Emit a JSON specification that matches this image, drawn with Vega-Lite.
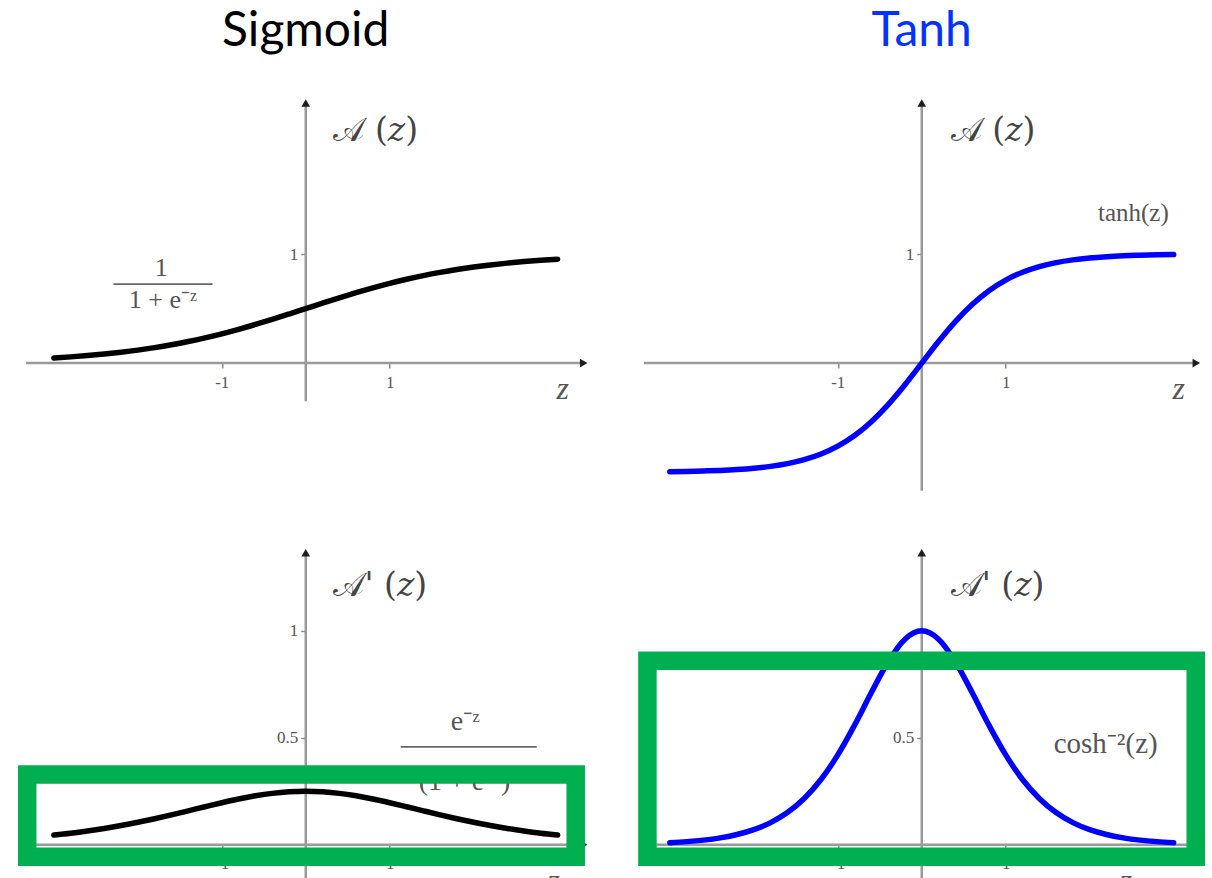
{
  "$schema": "https://vega.github.io/schema/vega-lite/v6.json",
  "background": "white",
  "autosize": {"type": "pad"},
  "padding": {"left": 17.25, "top": 8, "right": 0, "bottom": 0},
  "bounds": "flush",
  "columns": 2,
  "spacing": {"row": 47, "column": 45},
  "datasets": {
    "sigmoid": [
      {"z": -3, "a": 0.0474}, {"z": -2.8, "a": 0.0573}, {"z": -2.6, "a": 0.0691}, {"z": -2.4, "a": 0.0832},
      {"z": -2.2, "a": 0.0998}, {"z": -2, "a": 0.1192}, {"z": -1.8, "a": 0.1419}, {"z": -1.6, "a": 0.168},
      {"z": -1.4, "a": 0.1978}, {"z": -1.2, "a": 0.2315}, {"z": -1, "a": 0.2689}, {"z": -0.8, "a": 0.31},
      {"z": -0.6, "a": 0.3543}, {"z": -0.4, "a": 0.4013}, {"z": -0.2, "a": 0.4502}, {"z": 0, "a": 0.5},
      {"z": 0.2, "a": 0.5498}, {"z": 0.4, "a": 0.5987}, {"z": 0.6, "a": 0.6457}, {"z": 0.8, "a": 0.69},
      {"z": 1, "a": 0.7311}, {"z": 1.2, "a": 0.7685}, {"z": 1.4, "a": 0.8022}, {"z": 1.6, "a": 0.832},
      {"z": 1.8, "a": 0.8581}, {"z": 2, "a": 0.8808}, {"z": 2.2, "a": 0.9002}, {"z": 2.4, "a": 0.9168},
      {"z": 2.6, "a": 0.9309}, {"z": 2.8, "a": 0.9427}, {"z": 3, "a": 0.9526}
    ],
    "sigmoidPrime": [
      {"z": -3, "a": 0.0452}, {"z": -2.8, "a": 0.054}, {"z": -2.6, "a": 0.0644}, {"z": -2.4, "a": 0.0763},
      {"z": -2.2, "a": 0.0898}, {"z": -2, "a": 0.105}, {"z": -1.8, "a": 0.1217}, {"z": -1.6, "a": 0.1398},
      {"z": -1.4, "a": 0.1587}, {"z": -1.2, "a": 0.1779}, {"z": -1, "a": 0.1966}, {"z": -0.8, "a": 0.2139},
      {"z": -0.6, "a": 0.2288}, {"z": -0.4, "a": 0.2403}, {"z": -0.2, "a": 0.2475}, {"z": 0, "a": 0.25},
      {"z": 0.2, "a": 0.2475}, {"z": 0.4, "a": 0.2403}, {"z": 0.6, "a": 0.2288}, {"z": 0.8, "a": 0.2139},
      {"z": 1, "a": 0.1966}, {"z": 1.2, "a": 0.1779}, {"z": 1.4, "a": 0.1587}, {"z": 1.6, "a": 0.1398},
      {"z": 1.8, "a": 0.1217}, {"z": 2, "a": 0.105}, {"z": 2.2, "a": 0.0898}, {"z": 2.4, "a": 0.0763},
      {"z": 2.6, "a": 0.0644}, {"z": 2.8, "a": 0.054}, {"z": 3, "a": 0.0452}
    ],
    "tanh": [
      {"z": -3, "a": -0.9951}, {"z": -2.8, "a": -0.9926}, {"z": -2.6, "a": -0.989}, {"z": -2.4, "a": -0.9837},
      {"z": -2.2, "a": -0.9757}, {"z": -2, "a": -0.964}, {"z": -1.8, "a": -0.9468}, {"z": -1.6, "a": -0.9217},
      {"z": -1.4, "a": -0.8854}, {"z": -1.2, "a": -0.8337}, {"z": -1, "a": -0.7616}, {"z": -0.8, "a": -0.664},
      {"z": -0.6, "a": -0.537}, {"z": -0.4, "a": -0.3799}, {"z": -0.2, "a": -0.1974}, {"z": 0, "a": 0},
      {"z": 0.2, "a": 0.1974}, {"z": 0.4, "a": 0.3799}, {"z": 0.6, "a": 0.537}, {"z": 0.8, "a": 0.664},
      {"z": 1, "a": 0.7616}, {"z": 1.2, "a": 0.8337}, {"z": 1.4, "a": 0.8854}, {"z": 1.6, "a": 0.9217},
      {"z": 1.8, "a": 0.9468}, {"z": 2, "a": 0.964}, {"z": 2.2, "a": 0.9757}, {"z": 2.4, "a": 0.9837},
      {"z": 2.6, "a": 0.989}, {"z": 2.8, "a": 0.9926}, {"z": 3, "a": 0.9951}
    ],
    "tanhPrime": [
      {"z": -3, "a": 0.0099}, {"z": -2.8, "a": 0.0147}, {"z": -2.6, "a": 0.0218}, {"z": -2.4, "a": 0.0324},
      {"z": -2.2, "a": 0.0479}, {"z": -2, "a": 0.0707}, {"z": -1.8, "a": 0.1036}, {"z": -1.6, "a": 0.1505},
      {"z": -1.4, "a": 0.2162}, {"z": -1.2, "a": 0.305}, {"z": -1, "a": 0.42}, {"z": -0.8, "a": 0.5591},
      {"z": -0.6, "a": 0.7116}, {"z": -0.4, "a": 0.8556}, {"z": -0.2, "a": 0.961}, {"z": 0, "a": 1},
      {"z": 0.2, "a": 0.961}, {"z": 0.4, "a": 0.8556}, {"z": 0.6, "a": 0.7116}, {"z": 0.8, "a": 0.5591},
      {"z": 1, "a": 0.42}, {"z": 1.2, "a": 0.305}, {"z": 1.4, "a": 0.2162}, {"z": 1.6, "a": 0.1505},
      {"z": 1.8, "a": 0.1036}, {"z": 2, "a": 0.0707}, {"z": 2.2, "a": 0.0479}, {"z": 2.4, "a": 0.0324},
      {"z": 2.6, "a": 0.0218}, {"z": 2.8, "a": 0.0147}, {"z": 3, "a": 0.0099}
    ],
    "axes": [
      {"panel": "tl", "x": -3.33, "x2": 3.31, "y": 0, "y2": 0},
      {"panel": "tl", "x": 0, "x2": 0, "y": -0.35, "y2": 2.385},
      {"panel": "tr", "x": -3.31, "x2": 3.27, "y": 0, "y2": 0},
      {"panel": "tr", "x": 0, "x2": 0, "y": -1.17, "y2": 2.385},
      {"panel": "bl", "x": -3.33, "x2": 3.31, "y": 0, "y2": 0},
      {"panel": "bl", "x": 0, "x2": 0, "y": -0.16, "y2": 1.365},
      {"panel": "br", "x": -3.31, "x2": 3.27, "y": 0, "y2": 0},
      {"panel": "br", "x": 0, "x2": 0, "y": -0.16, "y2": 1.365}
    ],
    "arrows": [
      {"panel": "tl", "axis": "x", "x": 3.31, "y": 0},
      {"panel": "tl", "axis": "y", "x": 0, "y": 2.385},
      {"panel": "tr", "axis": "x", "x": 3.27, "y": 0},
      {"panel": "tr", "axis": "y", "x": 0, "y": 2.385},
      {"panel": "bl", "axis": "x", "x": 3.31, "y": 0},
      {"panel": "bl", "axis": "y", "x": 0, "y": 1.365},
      {"panel": "br", "axis": "x", "x": 3.27, "y": 0},
      {"panel": "br", "axis": "y", "x": 0, "y": 1.365}
    ],
    "bars": [
      {"panel": "tl", "x": -2.29, "x2": -1.11, "y": 0.725},
      {"panel": "bl", "x": 1.13, "x2": 2.75, "y": 0.458}
    ],
    "labels": [
      {"panel": "tl", "role": "fn", "x": 0.33, "y": 2.13, "text": "𝒜 (𝑧)"},
      {"panel": "tl", "role": "var", "x": 3.06, "y": -0.24, "text": "z"},
      {"panel": "tl", "role": "expr", "x": -1.72, "y": 0.87, "text": "1"},
      {"panel": "tl", "role": "expr", "x": -1.7, "y": 0.58, "text": "1 + e⁻ᶻ"},
      {"panel": "tr", "role": "fn", "x": 0.345, "y": 2.13, "text": "𝒜 (𝑧)"},
      {"panel": "tr", "role": "expr", "x": 2.52, "y": 1.376, "text": "tanh(z)"},
      {"panel": "tr", "role": "var", "x": 3.06, "y": -0.24, "text": "z"},
      {"panel": "bl", "role": "fn", "x": 0.33, "y": 1.21, "text": "𝒜' (𝑧)"},
      {"panel": "bl", "role": "expr", "x": 1.9, "y": 0.575, "text": "e⁻ᶻ"},
      {"panel": "bl", "role": "expr", "x": 1.94, "y": 0.295, "text": "(1 + e⁻ᶻ)²"},
      {"panel": "bl", "role": "var", "x": 2.95, "y": -0.17, "text": "z"},
      {"panel": "br", "role": "fn", "x": 0.345, "y": 1.21, "text": "𝒜' (𝑧)"},
      {"panel": "br", "role": "expr", "x": 2.19, "y": 0.472, "text": "cosh⁻²(z)"},
      {"panel": "br", "role": "var", "x": 2.43, "y": -0.17, "text": "z"}
    ],
    "boxes": [
      {"panel": "bl", "x": -3.317, "x2": 3.215, "y": 0.329, "y2": -0.056},
      {"panel": "br", "x": -3.267, "x2": 3.263, "y": 0.86, "y2": -0.056}
    ]
  },
  "concat": [
    {
      "width": 571,
      "height": 409,
      "title": {"text": "Sigmoid", "color": "#000000", "anchor": "middle", "frame": "group", "baseline": "alphabetic", "offset": -9},
      "layer": [
        {
          "data": {"name": "axes"},
          "transform": [{"filter": "datum.panel === 'tl'"}],
          "mark": {"type": "rule", "color": "#9a9a9a", "strokeWidth": 2.5},
          "encoding": {
            "x": {"field": "x", "type": "quantitative", "title": null, "scale": {"domain": [-3.4, 3.4], "nice": false, "zero": false},
              "axis": {"values": [-1, 1], "offset": -130.9, "labelExpr": "replace(datum.label, '\u2212', '-')"}},
            "x2": {"field": "x2"},
            "y": {"field": "y", "type": "quantitative", "title": null, "scale": {"domain": [-1.2, 2.55], "nice": false, "zero": false},
              "axis": {"values": [1], "offset": -285.5}},
            "y2": {"field": "y2"}
          }
        },
        {
          "data": {"name": "arrows"},
          "transform": [{"filter": "datum.panel === 'tl' && datum.axis === 'x'"}],
          "mark": {"type": "point", "shape": "triangle-right", "filled": true, "color": "#1e1e1e", "opacity": 1, "size": 75},
          "encoding": {"x": {"field": "x", "type": "quantitative"}, "y": {"field": "y", "type": "quantitative"}}
        },
        {
          "data": {"name": "arrows"},
          "transform": [{"filter": "datum.panel === 'tl' && datum.axis === 'y'"}],
          "mark": {"type": "point", "shape": "triangle-up", "filled": true, "color": "#1e1e1e", "opacity": 1, "size": 75},
          "encoding": {"x": {"field": "x", "type": "quantitative"}, "y": {"field": "y", "type": "quantitative"}}
        },
        {
          "data": {"name": "bars"},
          "transform": [{"filter": "datum.panel === 'tl'"}],
          "mark": {"type": "rule", "color": "#666666", "strokeWidth": 1.8},
          "encoding": {"x": {"field": "x", "type": "quantitative"}, "x2": {"field": "x2"}, "y": {"field": "y", "type": "quantitative"}}
        },
        {
          "data": {"name": "labels"},
          "transform": [{"filter": "datum.panel === 'tl' && datum.role === 'fn'"}],
          "mark": {"type": "text", "align": "left", "baseline": "middle", "font": "DejaVu Serif", "fontSize": 33, "color": "#444444"},
          "encoding": {"x": {"field": "x", "type": "quantitative"}, "y": {"field": "y", "type": "quantitative"}, "text": {"field": "text", "type": "nominal"}}
        },
        {
          "data": {"name": "labels"},
          "transform": [{"filter": "datum.panel === 'tl' && datum.role === 'var'"}],
          "mark": {"type": "text", "align": "center", "baseline": "middle", "font": "Liberation Serif", "fontStyle": "italic", "fontSize": 32, "color": "#555555"},
          "encoding": {"x": {"field": "x", "type": "quantitative"}, "y": {"field": "y", "type": "quantitative"}, "text": {"field": "text", "type": "nominal"}}
        },
        {
          "data": {"name": "labels"},
          "transform": [{"filter": "datum.panel === 'tl' && datum.role === 'expr'"}],
          "mark": {"type": "text", "align": "center", "baseline": "middle", "font": "Liberation Serif", "fontSize": 26, "color": "#555555"},
          "encoding": {"x": {"field": "x", "type": "quantitative"}, "y": {"field": "y", "type": "quantitative"}, "text": {"field": "text", "type": "nominal"}}
        },
        {
          "data": {"name": "sigmoid"},
          "mark": {"type": "line", "color": "#000000", "strokeWidth": 5.5, "interpolate": "monotone", "strokeCap": "round"},
          "encoding": {"x": {"field": "z", "type": "quantitative"}, "y": {"field": "a", "type": "quantitative"}}
        }
      ]
    },
    {
      "width": 571,
      "height": 409,
      "title": {"text": "Tanh", "color": "#0433ff", "anchor": "middle", "frame": "group", "baseline": "alphabetic", "offset": -9},
      "layer": [
        {
          "data": {"name": "axes"},
          "transform": [{"filter": "datum.panel === 'tr'"}],
          "mark": {"type": "rule", "color": "#9a9a9a", "strokeWidth": 2.5},
          "encoding": {
            "x": {"field": "x", "type": "quantitative", "title": null, "scale": {"domain": [-3.4, 3.4], "nice": false, "zero": false},
              "axis": {"values": [-1, 1], "offset": -130.9, "labelExpr": "replace(datum.label, '\u2212', '-')"}},
            "x2": {"field": "x2"},
            "y": {"field": "y", "type": "quantitative", "title": null, "scale": {"domain": [-1.2, 2.55], "nice": false, "zero": false},
              "axis": {"values": [1], "offset": -285.5}},
            "y2": {"field": "y2"}
          }
        },
        {
          "data": {"name": "arrows"},
          "transform": [{"filter": "datum.panel === 'tr' && datum.axis === 'x'"}],
          "mark": {"type": "point", "shape": "triangle-right", "filled": true, "color": "#1e1e1e", "opacity": 1, "size": 75},
          "encoding": {"x": {"field": "x", "type": "quantitative"}, "y": {"field": "y", "type": "quantitative"}}
        },
        {
          "data": {"name": "arrows"},
          "transform": [{"filter": "datum.panel === 'tr' && datum.axis === 'y'"}],
          "mark": {"type": "point", "shape": "triangle-up", "filled": true, "color": "#1e1e1e", "opacity": 1, "size": 75},
          "encoding": {"x": {"field": "x", "type": "quantitative"}, "y": {"field": "y", "type": "quantitative"}}
        },
        {
          "data": {"name": "labels"},
          "transform": [{"filter": "datum.panel === 'tr' && datum.role === 'fn'"}],
          "mark": {"type": "text", "align": "left", "baseline": "middle", "font": "DejaVu Serif", "fontSize": 33, "color": "#444444"},
          "encoding": {"x": {"field": "x", "type": "quantitative"}, "y": {"field": "y", "type": "quantitative"}, "text": {"field": "text", "type": "nominal"}}
        },
        {
          "data": {"name": "labels"},
          "transform": [{"filter": "datum.panel === 'tr' && datum.role === 'var'"}],
          "mark": {"type": "text", "align": "center", "baseline": "middle", "font": "Liberation Serif", "fontStyle": "italic", "fontSize": 32, "color": "#555555"},
          "encoding": {"x": {"field": "x", "type": "quantitative"}, "y": {"field": "y", "type": "quantitative"}, "text": {"field": "text", "type": "nominal"}}
        },
        {
          "data": {"name": "labels"},
          "transform": [{"filter": "datum.panel === 'tr' && datum.role === 'expr'"}],
          "mark": {"type": "text", "align": "center", "baseline": "middle", "font": "Liberation Serif", "fontSize": 25, "color": "#555555"},
          "encoding": {"x": {"field": "x", "type": "quantitative"}, "y": {"field": "y", "type": "quantitative"}, "text": {"field": "text", "type": "nominal"}}
        },
        {
          "data": {"name": "tanh"},
          "mark": {"type": "line", "color": "#0000ff", "strokeWidth": 5.5, "interpolate": "monotone", "strokeCap": "round"},
          "encoding": {"x": {"field": "z", "type": "quantitative"}, "y": {"field": "a", "type": "quantitative"}}
        }
      ]
    },
    {
      "width": 571,
      "height": 338,
      "layer": [
        {
          "data": {"name": "axes"},
          "transform": [{"filter": "datum.panel === 'bl'"}],
          "mark": {"type": "rule", "color": "#9a9a9a", "strokeWidth": 2.5},
          "encoding": {
            "x": {"field": "x", "type": "quantitative", "title": null, "scale": {"domain": [-3.4, 3.4], "nice": false, "zero": false},
              "axis": {"values": [-1, 1], "offset": -34.2, "labelExpr": "replace(datum.label, '\u2212', '-')"}},
            "x2": {"field": "x2"},
            "y": {"field": "y", "type": "quantitative", "title": null, "scale": {"domain": [-0.16, 1.42], "nice": false, "zero": false},
              "axis": {"values": [0.5, 1], "offset": -285.5}},
            "y2": {"field": "y2"}
          }
        },
        {
          "data": {"name": "arrows"},
          "transform": [{"filter": "datum.panel === 'bl' && datum.axis === 'x'"}],
          "mark": {"type": "point", "shape": "triangle-right", "filled": true, "color": "#1e1e1e", "opacity": 1, "size": 75},
          "encoding": {"x": {"field": "x", "type": "quantitative"}, "y": {"field": "y", "type": "quantitative"}}
        },
        {
          "data": {"name": "arrows"},
          "transform": [{"filter": "datum.panel === 'bl' && datum.axis === 'y'"}],
          "mark": {"type": "point", "shape": "triangle-up", "filled": true, "color": "#1e1e1e", "opacity": 1, "size": 75},
          "encoding": {"x": {"field": "x", "type": "quantitative"}, "y": {"field": "y", "type": "quantitative"}}
        },
        {
          "data": {"name": "bars"},
          "transform": [{"filter": "datum.panel === 'bl'"}],
          "mark": {"type": "rule", "color": "#666666", "strokeWidth": 1.8},
          "encoding": {"x": {"field": "x", "type": "quantitative"}, "x2": {"field": "x2"}, "y": {"field": "y", "type": "quantitative"}}
        },
        {
          "data": {"name": "labels"},
          "transform": [{"filter": "datum.panel === 'bl' && datum.role === 'fn'"}],
          "mark": {"type": "text", "align": "left", "baseline": "middle", "font": "DejaVu Serif", "fontSize": 33, "color": "#444444"},
          "encoding": {"x": {"field": "x", "type": "quantitative"}, "y": {"field": "y", "type": "quantitative"}, "text": {"field": "text", "type": "nominal"}}
        },
        {
          "data": {"name": "labels"},
          "transform": [{"filter": "datum.panel === 'bl' && datum.role === 'var'"}],
          "mark": {"type": "text", "align": "center", "baseline": "middle", "font": "Liberation Serif", "fontStyle": "italic", "fontSize": 32, "color": "#555555"},
          "encoding": {"x": {"field": "x", "type": "quantitative"}, "y": {"field": "y", "type": "quantitative"}, "text": {"field": "text", "type": "nominal"}}
        },
        {
          "data": {"name": "labels"},
          "transform": [{"filter": "datum.panel === 'bl' && datum.role === 'expr'"}],
          "mark": {"type": "text", "align": "center", "baseline": "middle", "font": "Liberation Serif", "fontSize": 28, "color": "#555555"},
          "encoding": {"x": {"field": "x", "type": "quantitative"}, "y": {"field": "y", "type": "quantitative"}, "text": {"field": "text", "type": "nominal"}}
        },
        {
          "data": {"name": "sigmoidPrime"},
          "mark": {"type": "line", "color": "#000000", "strokeWidth": 5.5, "interpolate": "monotone", "strokeCap": "round"},
          "encoding": {"x": {"field": "z", "type": "quantitative"}, "y": {"field": "a", "type": "quantitative"}}
        },
        {
          "data": {"name": "boxes"},
          "transform": [{"filter": "datum.panel === 'bl'"}],
          "mark": {"type": "rect", "filled": false, "color": "#00b050", "strokeWidth": 18.5, "strokeJoin": "miter", "opacity": 1},
          "encoding": {"x": {"field": "x", "type": "quantitative"}, "x2": {"field": "x2"}, "y": {"field": "y", "type": "quantitative"}, "y2": {"field": "y2"}}
        }
      ]
    },
    {
      "width": 571,
      "height": 338,
      "layer": [
        {
          "data": {"name": "axes"},
          "transform": [{"filter": "datum.panel === 'br'"}],
          "mark": {"type": "rule", "color": "#9a9a9a", "strokeWidth": 2.5},
          "encoding": {
            "x": {"field": "x", "type": "quantitative", "title": null, "scale": {"domain": [-3.4, 3.4], "nice": false, "zero": false},
              "axis": {"values": [-1, 1], "offset": -34.2, "labelExpr": "replace(datum.label, '\u2212', '-')"}},
            "x2": {"field": "x2"},
            "y": {"field": "y", "type": "quantitative", "title": null, "scale": {"domain": [-0.16, 1.42], "nice": false, "zero": false},
              "axis": {"values": [0.5], "offset": -285.5}},
            "y2": {"field": "y2"}
          }
        },
        {
          "data": {"name": "arrows"},
          "transform": [{"filter": "datum.panel === 'br' && datum.axis === 'x'"}],
          "mark": {"type": "point", "shape": "triangle-right", "filled": true, "color": "#1e1e1e", "opacity": 1, "size": 75},
          "encoding": {"x": {"field": "x", "type": "quantitative"}, "y": {"field": "y", "type": "quantitative"}}
        },
        {
          "data": {"name": "arrows"},
          "transform": [{"filter": "datum.panel === 'br' && datum.axis === 'y'"}],
          "mark": {"type": "point", "shape": "triangle-up", "filled": true, "color": "#1e1e1e", "opacity": 1, "size": 75},
          "encoding": {"x": {"field": "x", "type": "quantitative"}, "y": {"field": "y", "type": "quantitative"}}
        },
        {
          "data": {"name": "labels"},
          "transform": [{"filter": "datum.panel === 'br' && datum.role === 'fn'"}],
          "mark": {"type": "text", "align": "left", "baseline": "middle", "font": "DejaVu Serif", "fontSize": 33, "color": "#444444"},
          "encoding": {"x": {"field": "x", "type": "quantitative"}, "y": {"field": "y", "type": "quantitative"}, "text": {"field": "text", "type": "nominal"}}
        },
        {
          "data": {"name": "labels"},
          "transform": [{"filter": "datum.panel === 'br' && datum.role === 'var'"}],
          "mark": {"type": "text", "align": "center", "baseline": "middle", "font": "Liberation Serif", "fontStyle": "italic", "fontSize": 32, "color": "#555555"},
          "encoding": {"x": {"field": "x", "type": "quantitative"}, "y": {"field": "y", "type": "quantitative"}, "text": {"field": "text", "type": "nominal"}}
        },
        {
          "data": {"name": "labels"},
          "transform": [{"filter": "datum.panel === 'br' && datum.role === 'expr'"}],
          "mark": {"type": "text", "align": "center", "baseline": "middle", "font": "Liberation Serif", "fontSize": 29, "color": "#555555"},
          "encoding": {"x": {"field": "x", "type": "quantitative"}, "y": {"field": "y", "type": "quantitative"}, "text": {"field": "text", "type": "nominal"}}
        },
        {
          "data": {"name": "tanhPrime"},
          "mark": {"type": "line", "color": "#0000ff", "strokeWidth": 5.5, "interpolate": "monotone", "strokeCap": "round"},
          "encoding": {"x": {"field": "z", "type": "quantitative"}, "y": {"field": "a", "type": "quantitative"}}
        },
        {
          "data": {"name": "boxes"},
          "transform": [{"filter": "datum.panel === 'br'"}],
          "mark": {"type": "rect", "filled": false, "color": "#00b050", "strokeWidth": 18.5, "strokeJoin": "miter", "opacity": 1},
          "encoding": {"x": {"field": "x", "type": "quantitative"}, "x2": {"field": "x2"}, "y": {"field": "y", "type": "quantitative"}, "y2": {"field": "y2"}}
        }
      ]
    }
  ],
  "config": {
    "view": {"stroke": null},
    "title": {"font": "Lato", "fontSize": 48, "fontWeight": "normal"},
    "axis": {
      "domain": false,
      "grid": false,
      "tickSize": 5,
      "tickColor": "#8c8c8c",
      "tickWidth": 1.5,
      "labelFont": "Liberation Serif",
      "labelFontSize": 17,
      "labelColor": "#555555",
      "labelFlush": false,
      "labelOverlap": false,
      "format": "~g"
    },
    "axisX": {"labelPadding": 6},
    "axisY": {"labelPadding": 3}
  }
}
